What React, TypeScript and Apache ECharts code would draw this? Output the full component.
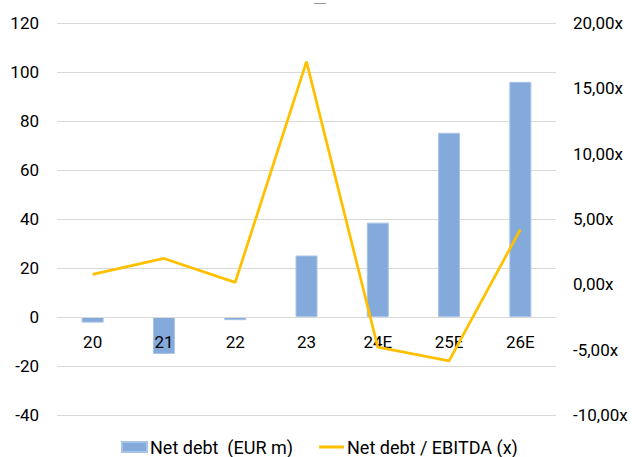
import React, { useEffect, useRef } from "react";
import * as echarts from "echarts";

const categories = ["20", "21", "22", "23", "24E", "25E", "26E"];
const netDebt = [-2.3, -15.1, -1.3, 25.1, 38.5, 75.2, 96.0];
const netDebtEbitda = [0.76, 1.98, 0.15, 17.04, -4.81, -5.86, 4.2];
const leftTicks = { min: -40, max: 120, interval: 20 };
const rightTicks = { min: -10, max: 20, interval: 5 };
const seriesNames = ["Net debt\u00A0 (EUR m)", "Net debt / EBITDA (x)"];

export default function App() {
  const ref = useRef<HTMLDivElement>(null);
  useEffect(() => {
    document.body.style.margin = "0";
    const chart = echarts.init(ref.current!, null, { renderer: "svg" });
    const font = "Roboto";
    chart.setOption({
      animation: false,
      backgroundColor: "#ffffff",
      textStyle: { fontFamily: font },
      grid: { left: 57, right: 76, top: 23, bottom: 42, containLabel: false },
      legend: {
        top: 433,
        left: 116,
        itemWidth: 25,
        itemHeight: 10,
        itemGap: 26,
        textStyle: { fontFamily: font, fontSize: 18, color: "#000000", padding: [0, 0, 0, -2] },
        data: [
          { name: seriesNames[0], icon: "rect" },
          { name: seriesNames[1], icon: "path://M0,0 L25,0 L25,3 L0,3 Z" },
        ],
      },
      graphic: [
        { type: "rect", shape: { x: 314, y: 3, width: 12, height: 1 }, style: { fill: "#9a9a9a" } },
      ],
      xAxis: {
        type: "category",
        data: categories,
        position: "bottom",
        offset: -98,
        z: 10,
        axisLine: { onZero: false, lineStyle: { color: "#D9D9D9", width: 1 } },
        axisTick: { show: false },
        axisLabel: { color: "#000000", fontSize: 17, fontFamily: font, margin: 16 },
        splitLine: { show: false },
      },
      yAxis: [
        {
          type: "value",
          min: leftTicks.min,
          max: leftTicks.max,
          interval: leftTicks.interval,
          axisLine: { show: false },
          axisTick: { show: false },
          axisLabel: { color: "#000000", fontSize: 17, fontFamily: font, margin: 18 },
          splitLine: { lineStyle: { color: "#D9D9D9", width: 1 } },
        },
        {
          type: "value",
          min: rightTicks.min,
          max: rightTicks.max,
          interval: rightTicks.interval,
          position: "right",
          axisLine: { show: false },
          axisTick: { show: false },
          splitLine: { show: false },
          axisLabel: {
            color: "#000000",
            fontSize: 17,
            fontFamily: font,
            margin: 17,
            formatter: (v: number) => v.toFixed(2).replace(".", ",") + "x",
          },
        },
      ],
      series: [
        {
          name: seriesNames[0],
          type: "bar",
          yAxisIndex: 0,
          data: netDebt,
          barWidth: 22,
          itemStyle: { color: "#84AADC", borderColor: "#A8C3E8", borderWidth: 1 },
          z: 2,
        },
        {
          name: seriesNames[1],
          type: "line",
          yAxisIndex: 1,
          data: netDebtEbitda,
          symbol: "none",
          lineStyle: { color: "#FFC000", width: 2.75 },
          itemStyle: { color: "#FFC000" },
          z: 12,
        },
      ],
    });
    return () => chart.dispose();
  }, []);
  return (
    <div
      ref={ref}
      style={{ position: "fixed", left: 0, top: 0, width: 632, height: 457 }}
    />
  );
}
